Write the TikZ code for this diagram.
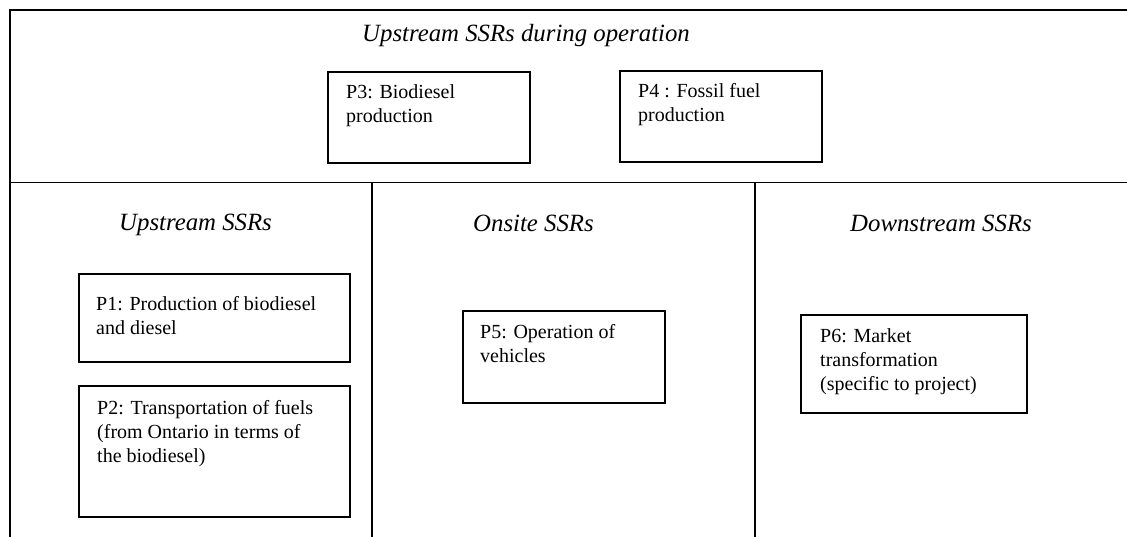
\documentclass[tikz,border=0pt]{standalone}
\usepackage{fontspec}
\setmainfont{Liberation Serif}
\tikzset{
  frame/.style={line width=1.8pt, line cap=rect},
  procbox/.style={draw, line width=1.7pt, inner sep=0pt, anchor=north west},
  boxtext/.style={anchor=base west, inner sep=0pt, font=\fontsize{20}{24}\selectfont},
  heading/.style={anchor=base west, inner sep=0pt, font=\fontsize{24.8}{29}\selectfont\itshape}
}
\newcommand{\lines}[1]{\begin{tabular}[t]{@{}l@{}}#1\end{tabular}}
\begin{document}
\begin{tikzpicture}[x=1pt, y=-1pt]
\useasboundingbox (0,0) rectangle (1127,537);
% frame
\coordinate (tl) at (10,10);
\coordinate (tr) at (1127,10);
\coordinate (ml) at (10,182.5);
\coordinate (mr) at (1127,182.5);
\coordinate (bl) at (10,537);
\coordinate (v1t) at (372,182.5);
\coordinate (v1b) at (372,537);
\coordinate (v2t) at (755,182.5);
\coordinate (v2b) at (755,537);
\draw[frame] (tr) -- (tl) -- (bl);
\draw[frame] (ml) -- (mr);
\draw[frame] (v1t) -- (v1b);
\draw[frame] (v2t) -- (v2b);
% headings
\node[heading] (h0) at (362,42) {Upstream SSRs during operation};
\node[heading] (h1) at (119,231) {Upstream SSRs};
\node[heading] (h2) at (473,232) {Onsite SSRs};
\node[heading] (h3) at (850,232) {Downstream SSRs};
% boxes
\node[procbox, minimum width=202pt, minimum height=91pt] (p3) at (327,71) {};
\node[boxtext] (p3t) at ([xshift=19pt, yshift=-28pt]p3.north west) {\lines{P3: Biodiesel\\production}};
\node[procbox, minimum width=202pt, minimum height=91pt] (p4) at (619,70) {};
\node[boxtext] (p4t) at ([xshift=19pt, yshift=-28pt]p4.north west) {\lines{P4 : Fossil fuel\\production}};
\node[procbox, minimum width=271pt, minimum height=88pt] (p1) at (78,273) {};
\node[boxtext] (p1t) at ([xshift=18pt, yshift=-38pt]p1.north west) {\lines{P1: Production of biodiesel\\and diesel}};
\node[procbox, minimum width=271pt, minimum height=131pt] (p2) at (78,385) {};
\node[boxtext] (p2t) at ([xshift=19pt, yshift=-29pt]p2.north west) {\lines{P2: Transportation of fuels\\(from Ontario in terms of\\the biodiesel)}};
\node[procbox, minimum width=202pt, minimum height=92pt] (p5) at (462,310) {};
\node[boxtext] (p5t) at ([xshift=18pt, yshift=-28pt]p5.north west) {\lines{P5: Operation of\\vehicles}};
\node[procbox, minimum width=226pt, minimum height=98pt] (p6) at (800,314) {};
\node[boxtext] (p6t) at ([xshift=20pt, yshift=-28pt]p6.north west) {\lines{P6: Market\\transformation\\(specific to project)}};
\end{tikzpicture}
\end{document}
